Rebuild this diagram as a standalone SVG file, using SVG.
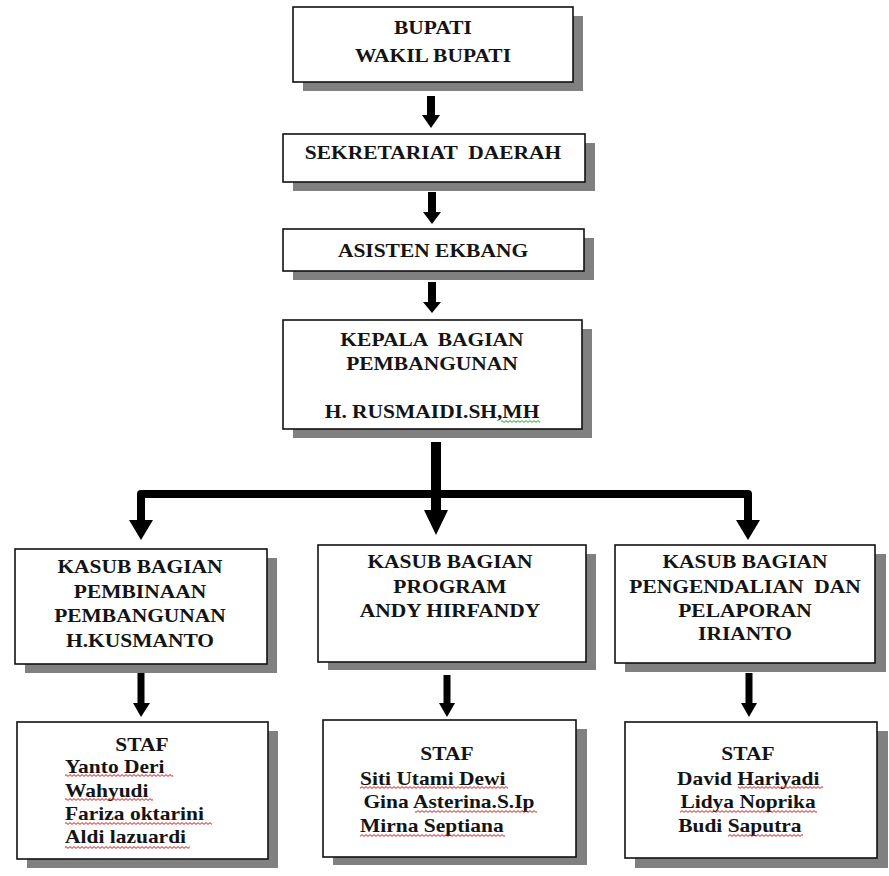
<svg xmlns="http://www.w3.org/2000/svg" width="889" height="876" viewBox="0 0 889 876" font-family="'Liberation Serif', 'Times New Roman', serif">
  <style>
    .shadow { fill: #808080; }
    .box { fill: #ffffff; stroke: #111111; stroke-width: 1.6; }
    .t { font-family: 'Liberation Serif', 'Times New Roman', serif; font-weight: bold; font-size: 19px; fill: #141414; white-space: pre; }
    .c { text-anchor: middle; }
    .shaft { fill: none; stroke: #000000; }
    .head { fill: #000000; }
  </style>
  <defs>
    <!-- spell-check style wavy underlines -->
    <pattern id="wavyRed" width="4" height="3" patternUnits="userSpaceOnUse">
      <path d="M0 2.4 L2 0.6 L4 2.4" fill="none" stroke="#e01010" stroke-width="1"/>
    </pattern>
    <pattern id="wavyGreen" width="4" height="3" patternUnits="userSpaceOnUse">
      <path d="M0 2.4 L2 0.6 L4 2.4" fill="none" stroke="#2a9a2a" stroke-width="1"/>
    </pattern>
  </defs>

  <rect width="889" height="876" fill="#ffffff"/>

  <!-- connectors -->
  <g id="connectors">
    <line class="shaft" x1="431" y1="96" x2="431" y2="116" stroke-width="8"/>
    <polygon class="head" points="422,115 440,115 431,128"/>

    <line class="shaft" x1="432" y1="192" x2="432" y2="213" stroke-width="8"/>
    <polygon class="head" points="423,212 441,212 432,224"/>

    <line class="shaft" x1="432" y1="282" x2="432" y2="303" stroke-width="8"/>
    <polygon class="head" points="423,302 441,302 432,313"/>

    <line class="shaft" x1="436" y1="442" x2="436" y2="512" stroke-width="10"/>
    <polygon class="head" points="424,510 448,510 436,535"/>

    <path class="shaft" d="M141 522 V494 H748 V522" stroke-width="8" stroke-linejoin="round"/>
    <polygon class="head" points="129,520 153,520 141,540"/>
    <polygon class="head" points="736,520 760,520 748,540"/>

    <line class="shaft" x1="141" y1="673" x2="141" y2="705" stroke-width="7"/>
    <polygon class="head" points="133,703 150,703 141,717"/>

    <line class="shaft" x1="447" y1="675" x2="447" y2="705" stroke-width="7"/>
    <polygon class="head" points="439,703 455,703 447,717"/>

    <line class="shaft" x1="749" y1="673" x2="749" y2="705" stroke-width="7"/>
    <polygon class="head" points="741,703 757,703 749,717"/>
  </g>

  <!-- top level -->
  <g id="bupati">
    <rect class="shadow" x="303" y="16" width="280" height="75"/>
    <rect class="box" x="293" y="7" width="280" height="75"/>
    <g transform="translate(433 0) scale(1.13 1)">
      <text class="t c" x="0" y="34">BUPATI</text>
      <text class="t c" x="0" y="62">WAKIL BUPATI</text>
    </g>
  </g>

  <g id="sekretariat">
    <rect class="shadow" x="293" y="143" width="302" height="48"/>
    <rect class="box" x="283" y="134" width="302" height="48"/>
    <g transform="translate(433 0) scale(1.13 1)">
      <text class="t c" x="0" y="159">SEKRETARIAT  DAERAH</text>
    </g>
  </g>

  <g id="asisten">
    <rect class="shadow" x="293" y="238" width="301" height="42"/>
    <rect class="box" x="283" y="229" width="301" height="42"/>
    <g transform="translate(433 0) scale(1.13 1)">
      <text class="t c" x="0" y="257">ASISTEN EKBANG</text>
    </g>
  </g>

  <g id="kepala">
    <rect class="shadow" x="293" y="329" width="299" height="109"/>
    <rect class="box" x="283" y="320" width="299" height="109"/>
    <g transform="translate(432 0) scale(1.13 1)">
      <text class="t c" x="0" y="346">KEPALA  BAGIAN</text>
      <text class="t c" x="0" y="370">PEMBANGUNAN</text>
      <text class="t c" x="0" y="418">H. RUSMAIDI.SH,MH</text>
    </g>
    <rect x="501" y="420" width="39" height="3" fill="url(#wavyGreen)"/>
  </g>

  <!-- sub-sections -->
  <g id="kasub-pembinaan">
    <rect class="shadow" x="25" y="558" width="252" height="115"/>
    <rect class="box" x="15" y="549" width="252" height="115"/>
    <g transform="translate(140 0) scale(1.13 1)">
      <text class="t c" x="0" y="573">KASUB BAGIAN</text>
      <text class="t c" x="0" y="598">PEMBINAAN</text>
      <text class="t c" x="0" y="622">PEMBANGUNAN</text>
      <text class="t c" x="0" y="647">H.KUSMANTO</text>
    </g>
  </g>

  <g id="kasub-program">
    <rect class="shadow" x="328" y="554" width="268" height="116"/>
    <rect class="box" x="318" y="545" width="268" height="117"/>
    <g transform="translate(450 0) scale(1.13 1)">
      <text class="t c" x="0" y="568">KASUB BAGIAN</text>
      <text class="t c" x="0" y="593">PROGRAM</text>
      <text class="t c" x="0" y="617">ANDY HIRFANDY</text>
    </g>
  </g>

  <g id="kasub-pengendalian">
    <rect class="shadow" x="625" y="554" width="261" height="118"/>
    <rect class="box" x="615" y="545" width="260" height="118"/>
    <g transform="translate(745 0) scale(1.13 1)">
      <text class="t c" x="0" y="568">KASUB BAGIAN</text>
      <text class="t c" x="0" y="593">PENGENDALIAN  DAN</text>
      <text class="t c" x="0" y="617">PELAPORAN</text>
      <text class="t c" x="0" y="640">IRIANTO</text>
    </g>
  </g>

  <!-- staff -->
  <g id="staf-pembinaan">
    <rect class="shadow" x="27" y="731" width="251" height="137"/>
    <rect class="box" x="17" y="722" width="251" height="137"/>
    <g transform="translate(142 0) scale(1.13 1)">
      <text class="t c" x="0" y="751">STAF</text>
    </g>
    <g transform="translate(65 0) scale(1.13 1)">
      <text class="t" x="0" y="773">Yanto Deri</text>
      <text class="t" x="0" y="797">Wahyudi</text>
      <text class="t" x="0" y="820">Fariza oktarini</text>
      <text class="t" x="0" y="843">Aldi lazuardi</text>
    </g>
    <rect x="65" y="774" width="108" height="3" fill="url(#wavyRed)"/>
    <rect x="65" y="798" width="88" height="3" fill="url(#wavyRed)"/>
    <rect x="65" y="822" width="147" height="3" fill="url(#wavyRed)"/>
    <rect x="65" y="846" width="125" height="3" fill="url(#wavyRed)"/>
  </g>

  <g id="staf-program">
    <rect class="shadow" x="333" y="729" width="254" height="136"/>
    <rect class="box" x="323" y="720" width="253" height="137"/>
    <g transform="translate(447 0) scale(1.13 1)">
      <text class="t c" x="0" y="760">STAF</text>
    </g>
    <g transform="translate(360 0) scale(1.13 1)">
      <text class="t" x="0" y="785">Siti Utami Dewi</text>
      <text class="t" x="3" y="808">Gina Asterina.S.Ip</text>
      <text class="t" x="0" y="832">Mirna Septiana</text>
    </g>
    <rect x="360" y="786" width="148" height="3" fill="url(#wavyRed)"/>
    <rect x="415" y="810" width="122" height="3" fill="url(#wavyRed)"/>
    <rect x="360" y="834" width="145" height="3" fill="url(#wavyRed)"/>
  </g>

  <g id="staf-pengendalian">
    <rect class="shadow" x="635" y="731" width="253" height="137"/>
    <rect class="box" x="625" y="722" width="252" height="136"/>
    <g transform="translate(748 0) scale(1.13 1)">
      <text class="t c" x="0" y="760">STAF</text>
    </g>
    <g transform="translate(677 0) scale(1.13 1)">
      <text class="t" x="0" y="785">David Hariyadi</text>
      <text class="t" x="3" y="808">Lidya Noprika</text>
      <text class="t" x="1" y="832">Budi Saputra</text>
    </g>
    <rect x="738" y="786" width="85" height="3" fill="url(#wavyRed)"/>
    <rect x="680" y="810" width="137" height="3" fill="url(#wavyRed)"/>
    <rect x="728" y="834" width="75" height="3" fill="url(#wavyRed)"/>
  </g>
</svg>
